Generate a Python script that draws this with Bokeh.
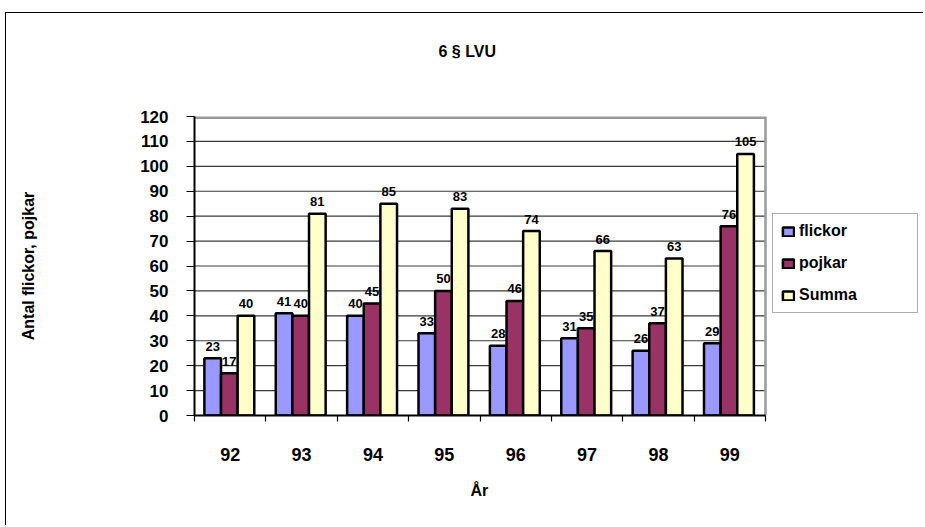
import numpy as np
from bokeh.plotting import figure
from bokeh.models import (ColumnDataSource, Range1d, FixedTicker, Legend, LegendItem,
                          InlineStyleSheet, Title)
from bokeh.transform import dodge
from bokeh.embed import file_html
from bokeh.resources import INLINE
from bokeh.core.properties import value

# ---- data ----
years = ["92", "93", "94", "95", "96", "97", "98", "99"]
flickor = [23, 41, 40, 33, 28, 31, 26, 29]
pojkar = [17, 40, 45, 50, 46, 35, 37, 76]
summa = [40, 81, 85, 83, 74, 66, 63, 105]
series_names = ["flickor", "pojkar", "Summa"]
y_ticks = list(range(0, 121, 10))

# ---- styles ----
FONT = "Liberation Sans"
colors = ["#9999FF", "#993366", "#FFFFCC"]
GRID = "#3a3a3a"
BORDER = "#9a9a9a"
BAR_W = 0.233
offsets = [-BAR_W - 0.012, -0.012, BAR_W - 0.012]
PLOT_L, PLOT_R, CANVAS_R = 194, 765, 920      # pixel layout of the plot area
n = len(years)
x_end = n * (CANVAS_R - PLOT_L) / (PLOT_R - PLOT_L)   # frame extends to hold legend

pos = [i + 0.5 for i in range(n)]
src = ColumnDataSource(dict(
    x=pos,
    flickor=flickor, pojkar=pojkar, summa=summa,
    lf=[str(v) for v in flickor],
    lp=[str(v) for v in pojkar],
    ls=[str(v) for v in summa],
))

p = figure(width=923, height=525,
           x_range=Range1d(0, x_end), y_range=Range1d(0, y_ticks[-1]),
           output_backend="svg", toolbar_location=None,
           min_border_left=PLOT_L, min_border_right=923 - CANVAS_R,
           min_border_top=116, min_border_bottom=110)
p.stylesheets = [InlineStyleSheet(css="""
:host { position: relative; }
:host::after { content: ''; position: absolute; left: 5px; top: 12px; right: 0px; bottom: 0px;
  border-left: 1px solid #000; border-top: 1px solid #000; pointer-events: none; z-index: 100; }
""")]
p.background_fill_color = "white"
p.border_fill_color = "white"
p.outline_line_color = None
p.xgrid.visible = False
p.ygrid.visible = False

# gridlines and top/right border of plot area
p.segment(x0=0, x1=n, y0=y_ticks[:-1], y1=y_ticks[:-1], line_color=GRID, line_width=1.2)
p.segment(x0=[n], x1=[n], y0=[y_ticks[0]], y1=[y_ticks[-1]], line_color=BORDER, line_width=2.5)
p.segment(x0=[0], x1=[n], y0=[y_ticks[-1]], y1=[y_ticks[-1]], line_color=BORDER, line_width=5)

renderers = []
for name, col, lab, c, off in zip(series_names, ["flickor", "pojkar", "summa"],
                                   ["lf", "lp", "ls"], colors, offsets):
    r = p.vbar(x=dodge("x", off, range=p.x_range), top=col, width=BAR_W, source=src,
               fill_color=c, line_color="black", line_width=2.5)
    renderers.append(r)
    p.text(x=dodge("x", off, range=p.x_range), y=col, text=lab, source=src,
           text_align="center", text_baseline="alphabetic", y_offset=-12,
           text_font=value(FONT), text_font_style="bold", text_font_size="13px",
           text_color="black")

# spacer between title and plot area (closest to frame)
p.add_layout(Title(text=" ", text_font_size="10px", standoff=39), "above")

# title
p.title.text = "6 § LVU"
p.title.align = "left"
p.title.offset = 244
p.title.vertical_align = "bottom"
p.title.standoff = 10
p.title.text_font = FONT
p.title.text_font_size = "16px"
p.title.text_font_style = "bold"
p.title.text_color = "black"

# x axis
p.xaxis.bounds = (0, n)
p.xaxis.ticker = FixedTicker(ticks=pos, minor_ticks=list(range(n + 1)))
p.xaxis.major_label_overrides = {x: y for x, y in zip(pos, years)}
p.xaxis.major_tick_out = 0
p.xaxis.major_tick_in = 0
p.xaxis.major_tick_line_color = None
p.xaxis.minor_tick_out = 6
p.xaxis.minor_tick_in = 0
p.xaxis.minor_tick_line_color = "black"
p.xaxis.minor_tick_line_width = 1.2
p.xaxis.major_label_standoff = 26
p.xaxis.major_label_text_font_size = "18px"

# x axis title, centred under the plot area
p.add_layout(Title(text="År", align="left", offset=276, vertical_align="top", standoff=36,
                   text_font=FONT, text_font_size="16px", text_font_style="bold",
                   text_color="black"), "below")

# y axis
p.yaxis.ticker = FixedTicker(ticks=y_ticks)
p.yaxis.minor_tick_line_color = None
p.yaxis.major_tick_out = 8
p.yaxis.major_tick_in = 0
p.yaxis.major_tick_line_color = "black"
p.yaxis.major_tick_line_width = 1.2
p.yaxis.major_label_standoff = 18
p.yaxis.major_label_text_font_size = "17px"
p.yaxis.axis_label = "Antal flickor, pojkar"
p.yaxis.axis_label_standoff = 100

for ax in (p.xaxis, p.yaxis):
    ax.axis_line_color = "black"
    ax.axis_line_width = 2
    ax.major_label_text_font = FONT
    ax.major_label_text_font_style = "bold"
    ax.major_label_text_color = "black"
    ax.axis_label_text_font = FONT
    ax.axis_label_text_font_style = "bold"
    ax.axis_label_text_font_size = "16px"
    ax.axis_label_text_color = "black"

legend = Legend(items=[LegendItem(label=s, renderers=[r]) for s, r in zip(series_names, renderers)],
                location=(772 - PLOT_L, 102), orientation="vertical")
legend.border_line_color = "#5a5a5a"
legend.border_line_width = 1
legend.background_fill_color = "white"
legend.background_fill_alpha = 1
legend.padding = 8
legend.spacing = 14
legend.margin = 0
legend.glyph_width = 14
legend.glyph_height = 11
legend.label_standoff = 4
legend.label_width = 110
legend.label_text_font = FONT
legend.label_text_font_style = "bold"
legend.label_text_font_size = "16px"
legend.label_text_color = "black"
p.add_layout(legend, "center")

open("out.html", "w").write(file_html(p, INLINE))
